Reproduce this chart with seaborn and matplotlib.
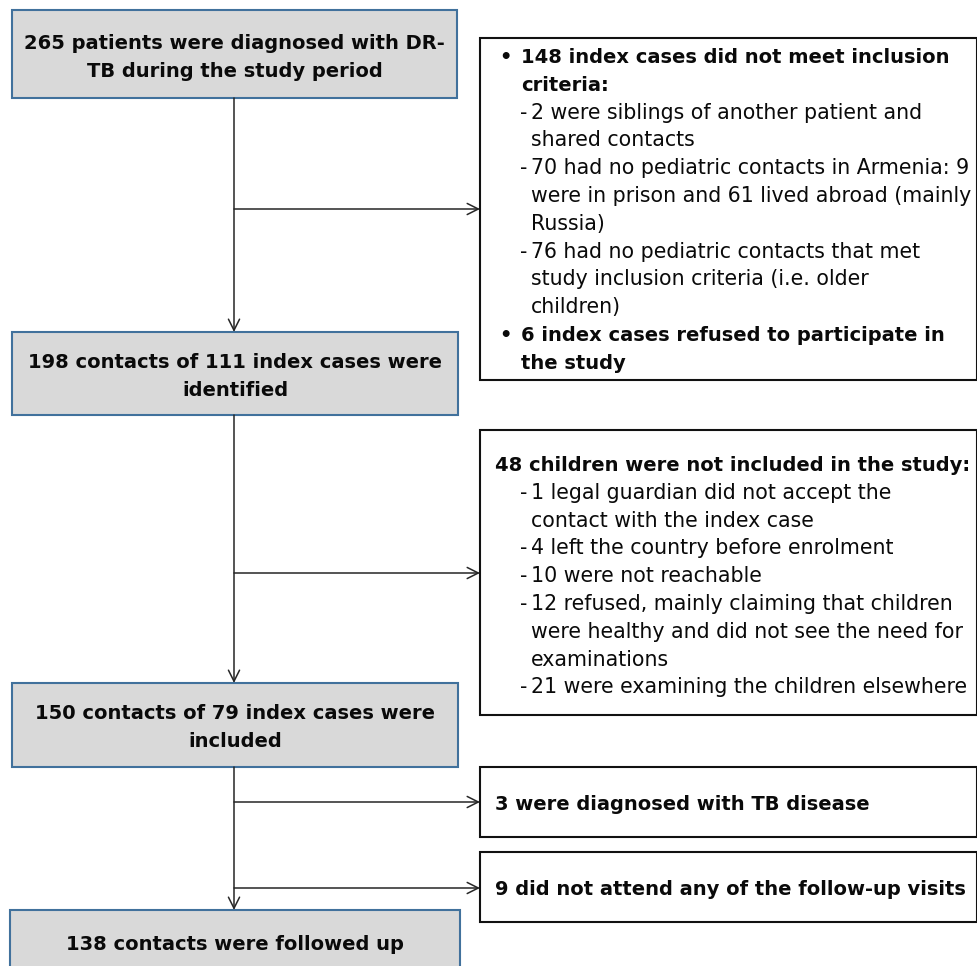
import matplotlib.pyplot as plt
import seaborn as sns
from matplotlib.patches import Rectangle

sns.set_theme(style='white')
plt.rcParams['font.family'] = ['DejaVu Sans']

# Main flow boxes (grey) text, one list per box
main_texts = [
    ['265 patients were diagnosed with DR-', 'TB during the study period'],
    ['198 contacts of 111 index cases were', 'identified'],
    ['150 contacts of 79 index cases were', 'included'],
    ['138 contacts were followed up'],
]

# Exclusion boxes: (text, kind) where kind is bullet / bcont / head / item / cont
excl_1 = [
    ('148 index cases did not meet inclusion', 'bullet'),
    ('criteria:', 'bcont'),
    ('2 were siblings of another patient and', 'item'),
    ('shared contacts', 'cont'),
    ('70 had no pediatric contacts in Armenia: 9', 'item'),
    ('were in prison and 61 lived abroad (mainly', 'cont'),
    ('Russia)', 'cont'),
    ('76 had no pediatric contacts that met', 'item'),
    ('study inclusion criteria (i.e. older', 'cont'),
    ('children)', 'cont'),
    ('6 index cases refused to participate in', 'bullet'),
    ('the study', 'bcont'),
]
excl_2 = [
    ('48 children were not included in the study:', 'head'),
    ('1 legal guardian did not accept the', 'item'),
    ('contact with the index case', 'cont'),
    ('4 left the country before enrolment', 'item'),
    ('10 were not reachable', 'item'),
    ('12 refused, mainly claiming that children', 'item'),
    ('were healthy and did not see the need for', 'cont'),
    ('examinations', 'cont'),
    ('21 were examining the children elsewhere', 'item'),
]
excl_3 = [('3 were diagnosed with TB disease', 'head')]
excl_4 = [('9 did not attend any of the follow-up visits', 'head')]

W, H = 978, 966
fig = plt.figure(figsize=(W / 100, H / 100), dpi=100)
ax = fig.add_axes([0, 0, 1, 1])
ax.set_xlim(0, W)
ax.set_ylim(H, 0)
ax.axis('off')

FS_B = 14.0
FS_R = 14.8
LH = 27.8
grey = '#d9d9d9'
blue = '#41719c'
line_c = '#262626'
txt_c = '#0a0a0a'

# grey boxes: x0, y0, x1, y1, first baseline
main_boxes = [
    (12, 10, 457, 98, 49),
    (12, 332, 458, 415, 368),
    (12, 683, 458, 767, 719),
    (10, 910, 460, 990, 950),
]
for (x0, y0, x1, y1, base), lines in zip(main_boxes, main_texts):
    ax.add_patch(Rectangle((x0, y0), x1 - x0, y1 - y0, facecolor=grey,
                           edgecolor=blue, linewidth=1.5))
    for i, t in enumerate(lines):
        ax.text((x0 + x1) / 2, base + i * LH, t, ha='center', va='baseline',
                fontsize=FS_B, fontweight='bold', color=txt_c)

# white exclusion boxes: y0, y1, first baseline, lines
excl_boxes = [
    (38, 380, 63, excl_1),
    (430, 715, 471, excl_2),
    (767, 837, 810, excl_3),
    (852, 922, 895, excl_4),
]
for y0, y1, base, lines in excl_boxes:
    ax.add_patch(Rectangle((480, y0), 497, y1 - y0, facecolor='white',
                           edgecolor='#111111', linewidth=1.5))
    for i, (t, kind) in enumerate(lines):
        y = base + i * LH
        if kind == 'bullet':
            ax.text(499, y, '\u2022', ha='left', va='baseline', fontsize=FS_B,
                    fontweight='bold', color=txt_c)
        if kind == 'item':
            ax.text(520, y, '-', ha='left', va='baseline', fontsize=FS_R,
                    color=txt_c)
        x = {'bullet': 521, 'bcont': 521, 'head': 495,
             'item': 531, 'cont': 531}[kind]
        bold = kind in ('bullet', 'bcont', 'head')
        ax.text(x, y, t, ha='left', va='baseline',
                fontsize=FS_B if bold else FS_R,
                fontweight='bold' if bold else 'normal', color=txt_c)

arrow = dict(arrowstyle='->', color=line_c, lw=1.1, mutation_scale=20,
             shrinkA=0, shrinkB=0)
# vertical flow arrows
for y0, y1 in [(98, 332), (415, 683), (767, 910)]:
    ax.annotate('', xy=(234, y1), xytext=(234, y0), arrowprops=arrow)
# side arrows
for y in [209, 573, 802, 888]:
    ax.annotate('', xy=(480, y), xytext=(234, y), arrowprops=arrow)

fig.savefig('out.png', dpi=100)
